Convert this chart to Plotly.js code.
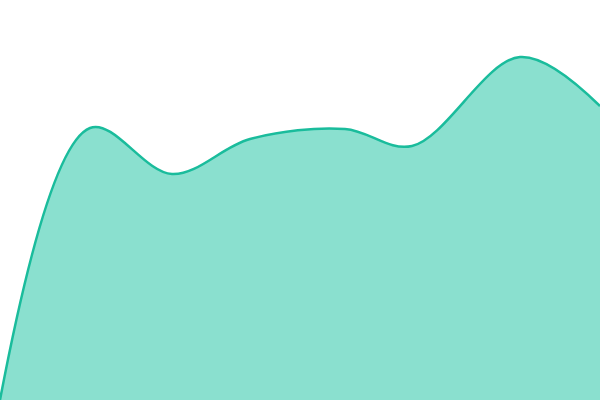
<!DOCTYPE html>
<html>
<head>
<meta charset="utf-8">
<script src="https://cdn.plot.ly/plotly-3.0.1.min.js"></script>
<style>
  html, body { margin: 0; padding: 0; background: #fff; }
  #chart { width: 600px; height: 400px; }
</style>
</head>
<body>
<div id="chart"></div>
<script>
// points
const xs = [0, 90, 172, 250, 345, 412, 520, 600];
const ys = [0, 272, 226, 261, 271, 254, 343, 294];

const data = [{
    x: xs,
    y: ys,
    type: 'scatter',
    mode: 'lines',
    fill: 'tozeroy',
    fillcolor: '#8ae0cf',
    line: { shape: 'spline', smoothing: 1, color: '#1abc9c', width: 2.5 },
    hoverinfo: 'none'
}];

const layout = {
    width: 600,
    height: 400,
    margin: { l: 0, r: 0, t: 0, b: 0 },
    showlegend: false,
    paper_bgcolor: '#ffffff',
    plot_bgcolor: '#ffffff',
    xaxis: { range: [0, 600], visible: false, fixedrange: true },
    yaxis: { range: [0, 400], visible: false, fixedrange: true }
};

Plotly.newPlot('chart', data, layout, { displayModeBar: false, staticPlot: true });
</script>
</body>
</html>
